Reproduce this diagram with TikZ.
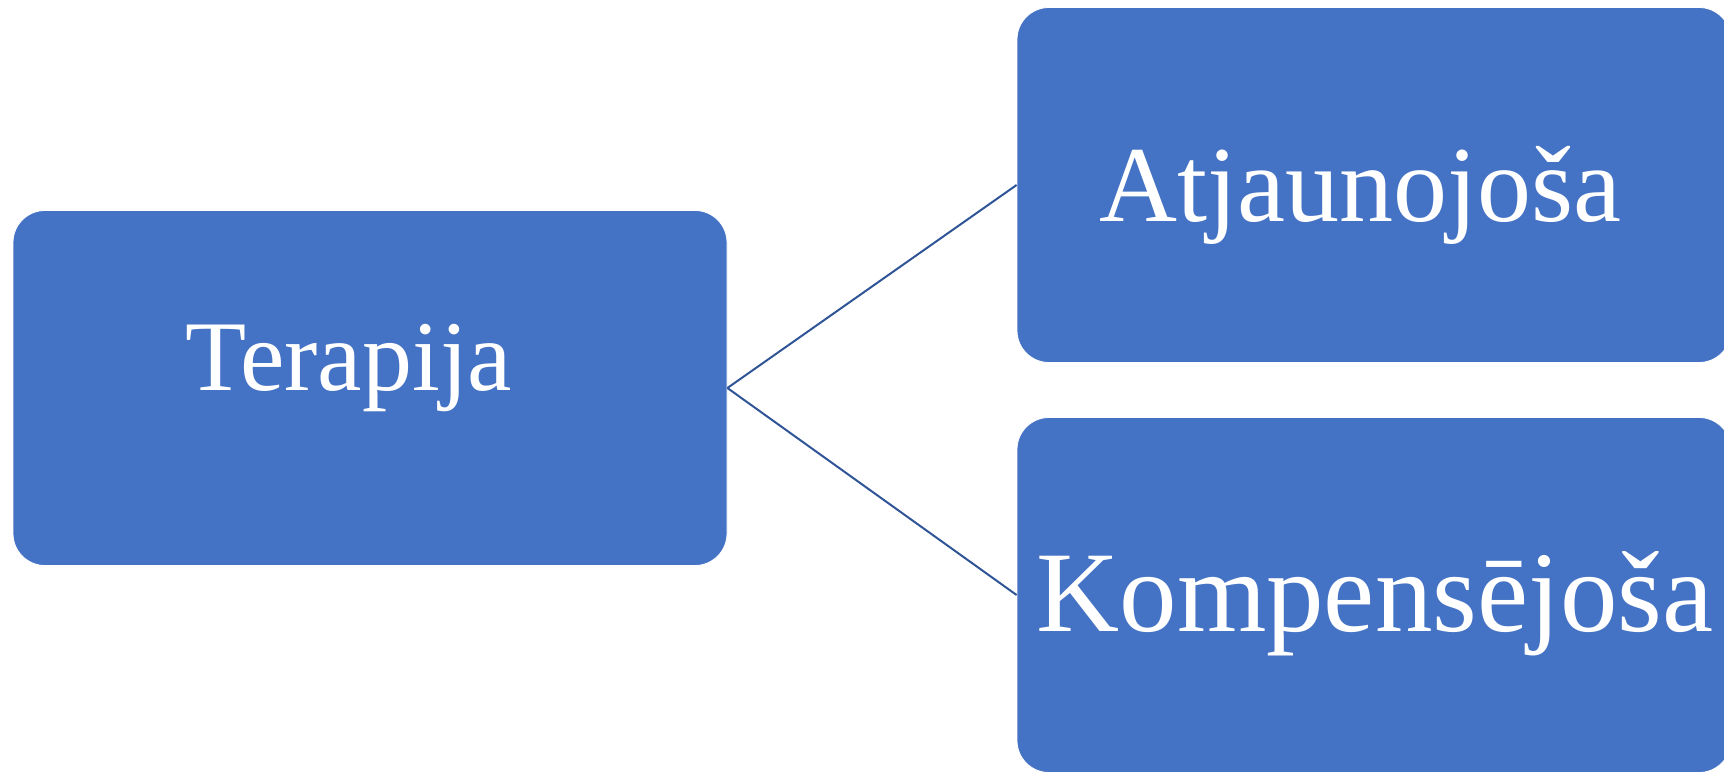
\documentclass[tikz,border=0pt]{standalone}
\usepackage{fontspec}
\setmainfont{Liberation Serif}
\definecolor{boxblue}{HTML}{4472C4}
\definecolor{linkblue}{HTML}{2F5597}
\begin{document}
\begin{tikzpicture}[x=1pt,y=-1pt,
  box/.style={fill=boxblue, draw=white, line width=0.8pt, rounded corners=32pt,
    minimum width=714pt, minimum height=355pt, inner sep=0pt},
  boxtext/.style={text=white, anchor=base, inner sep=0pt},
  link/.style={draw=linkblue, line width=2pt}]
\useasboundingbox (0,0) rectangle (1724,772);
\clip (0,0) rectangle (1724,772);
% the three boxes
\node[box] (ter) at (370,388) {};
\node[box] (atj) at (1374,185) {};
\node[box] (komp) at (1374,595) {};
% their labels
\node[boxtext, font=\fontsize{100}{120}\selectfont] (terlbl) at (349,390) {Terapija};
\node[boxtext, font=\fontsize{108}{130}\selectfont] (atjlbl) at (1360,221) {Atjaunojoša};
\node[boxtext, font=\fontsize{115}{138}\selectfont] (komplbl) at (1375,631) {Kompensējoša};
% connectors from the parent to the two children
\draw[link] (ter.east) -- (atj.west);
\draw[link] (ter.east) -- (komp.west);
\end{tikzpicture}
\end{document}
